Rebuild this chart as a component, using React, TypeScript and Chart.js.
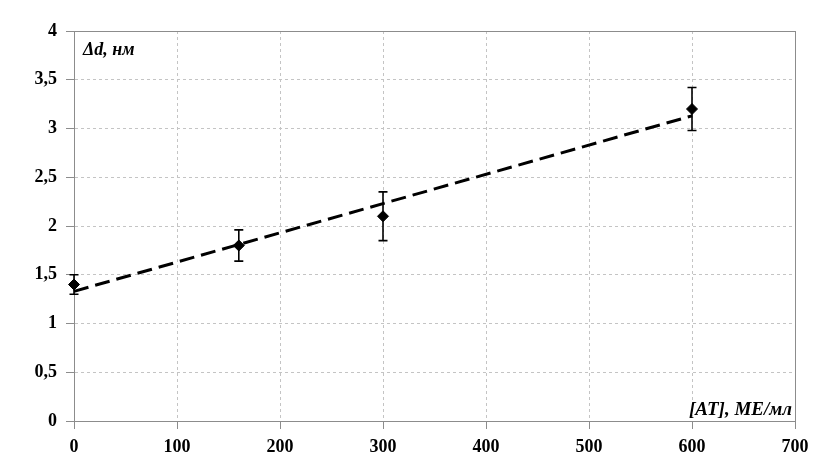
import { useEffect, useRef } from "react";
import { Chart, registerables } from "chart.js";

Chart.register(...registerables);

const concentrations = [0, 160, 300, 600];
const deltaD = [1.4, 1.8, 2.1, 3.2];
const errors = [0.1, 0.16, 0.25, 0.22];
const trendX = [0, 600];
const trendY = [1.33, 3.13];
const yAxisLabel = "Δd, нм";
const xAxisLabel = "[AT], МЕ/мл";

const FONT = "'Liberation Serif', 'Times New Roman', serif";

const errorBarPlugin = {
  id: "errorBars",
  afterDatasetsDraw(chart: any) {
    const { ctx, scales } = chart;
    ctx.save();
    ctx.strokeStyle = "#000";
    ctx.lineWidth = 1.6;
    concentrations.forEach((cx, i) => {
      const px = scales.x.getPixelForValue(cx);
      const top = scales.y.getPixelForValue(deltaD[i] + errors[i]);
      const bot = scales.y.getPixelForValue(deltaD[i] - errors[i]);
      ctx.beginPath();
      ctx.moveTo(px, top);
      ctx.lineTo(px, bot);
      ctx.moveTo(px - 4.5, top);
      ctx.lineTo(px + 4.5, top);
      ctx.moveTo(px - 4.5, bot);
      ctx.lineTo(px + 4.5, bot);
      ctx.stroke();
    });
    ctx.restore();
  },
};

const frameAndLabels = {
  id: "frameAndLabels",
  beforeDatasetsDraw(chart: any) {
    const { ctx, chartArea } = chart;
    ctx.save();
    ctx.strokeStyle = "#8c8c8c";
    ctx.lineWidth = 1;
    ctx.strokeRect(
      Math.round(chartArea.left) + 0.5,
      Math.round(chartArea.top) + 0.5,
      Math.round(chartArea.right - chartArea.left),
      Math.round(chartArea.bottom - chartArea.top)
    );
    ctx.restore();
  },
  afterDraw(chart: any) {
    const { ctx, chartArea } = chart;
    ctx.save();
    ctx.fillStyle = "#000";
    ctx.textBaseline = "middle";
    ctx.textAlign = "left";
    ctx.font = `italic bold 18px ${FONT}`;
    ctx.fillText(yAxisLabel, chartArea.left + 9, chartArea.top + 19);
    ctx.textAlign = "right";
    ctx.font = `italic bold 19px ${FONT}`;
    ctx.fillText(xAxisLabel, chartArea.right - 3, chartArea.bottom - 11);
    ctx.restore();
  },
};

export default function App() {
  const ref = useRef<HTMLCanvasElement | null>(null);

  useEffect(() => {
    document.body.style.margin = "0";
    if (!ref.current) return;
    const tickFont = { family: FONT, size: 18, weight: "bold" as const };
    const chart = new Chart(ref.current, {
      type: "scatter",
      data: {
        datasets: [
          {
            label: "trend",
            type: "line",
            data: trendX.map((x, i) => ({ x, y: trendY[i] })),
            borderColor: "#000",
            borderWidth: 3,
            borderDash: [15, 7],
            pointRadius: 0,
            fill: false,
            clip: false,
          } as any,
          {
            label: "Δd",
            data: concentrations.map((x, i) => ({ x, y: deltaD[i] })),
            pointStyle: "rectRot",
            pointRadius: 5.5,
            backgroundColor: "#000",
            borderColor: "#000",
            borderWidth: 1,
            showLine: false,
            clip: false,
          } as any,
        ],
      },
      options: {
        animation: false,
        responsive: false,
        maintainAspectRatio: false,
        layout: { padding: { top: 31, right: 38, left: 0, bottom: 0 } },
        plugins: {
          legend: { display: false },
          tooltip: { enabled: false },
        },
        scales: {
          x: {
            type: "linear",
            min: 0,
            max: 700,
            ticks: {
              stepSize: 100,
              font: tickFont,
              color: "#000",
              padding: 8,
            },
            grid: {
              color: "#c4c4c4",
              tickLength: 8,
              tickColor: "#8c8c8c",
            },
            border: { color: "#8c8c8c", dash: [3, 3] },
            afterFit(scale: any) {
              scale.height = 55;
            },
          },
          y: {
            type: "linear",
            min: 0,
            max: 4,
            ticks: {
              stepSize: 0.5,
              font: tickFont,
              color: "#000",
              padding: 9,
              callback: (v: any) => String(v).replace(".", ","),
            },
            grid: {
              color: "#c4c4c4",
              tickLength: 8,
              tickColor: "#8c8c8c",
            },
            border: { color: "#8c8c8c", dash: [3, 3] },
            afterFit(scale: any) {
              scale.width = 74;
            },
          },
        },
      },
      plugins: [frameAndLabels, errorBarPlugin],
    });
    return () => chart.destroy();
  }, []);

  return (
    <div style={{ width: 833, height: 476, background: "#fff" }}>
      <canvas ref={ref} width={833} height={476} />
    </div>
  );
}
